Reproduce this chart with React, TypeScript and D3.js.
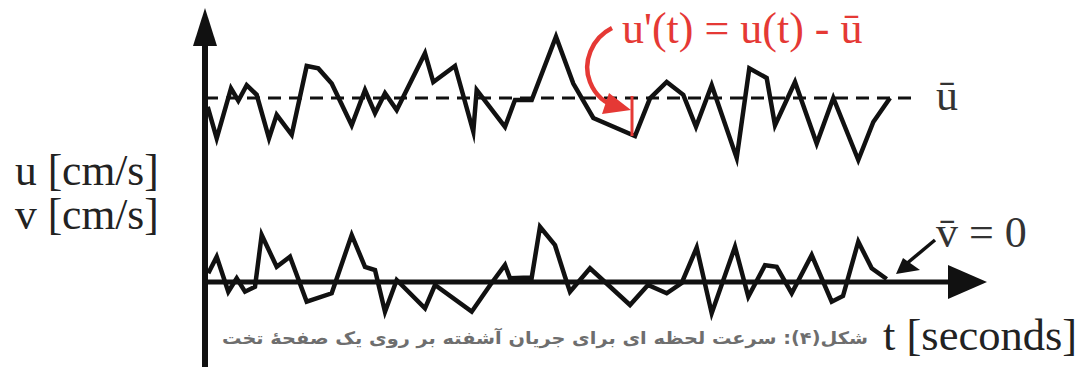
import React from "react";
import * as d3 from "d3";

// Instantaneous streamwise velocity u(t) [cm/s]
const timeU = [
  0.27, 1.17, 2.6, 3.33, 4.17, 5.17, 6.4, 7.17, 8.67, 10.17, 11.33, 12.67, 14.67, 16, 17, 18,
  19.17, 22, 22.83, 25, 26.83, 27.17, 30, 31, 32.67, 35.1, 36.83, 38.83, 43, 44.5, 46.17, 47.83,
  49.1, 50.67, 53.17, 54.43, 56.17, 57, 59, 61.17, 62.83, 65.33, 66.83, 68.5,
];
const uValues = [
  21.9, 17.96, 24.2, 22.66, 24.6, 23.4, 17.96, 20.9, 18.4, 27, 26.7, 24.8, 19.6, 24, 21.1, 23.6,
  21.5, 28.6, 25, 27, 18.8, 24, 19.4, 22.75, 22.75, 30.66, 24.8, 20.5, 18.25, 22.96, 25, 23.4,
  19.4, 24.6, 15.5, 26.7, 25.5, 19.6, 25, 17.3, 23, 15.25, 20, 23,
];

// Instantaneous transverse velocity v(t) [cm/s]
const timeV = [
  0.33, 1.17, 2.33, 3.17, 4, 5, 5.67, 7.17, 8.5, 10.17, 12.67, 14.67, 16, 17, 18, 19.17, 22, 23,
  26.67, 28.5, 30, 30.5, 31.83, 32.67, 33.5, 35, 36, 36.5, 38.5, 42.5, 44.3, 46.17, 47.67, 49.17,
  50.67, 53, 54.33, 56, 57.17, 58.67, 60.67, 62.67, 63.8, 65.33, 66.67, 68.17,
];
const vValues = [
  1.09, 3.16, -1.21, 0.46, -1.21, -0.59, 5.875, 1.9, 3.16, -2.46, -1.41, 5.875, 1.9, 1.5, -3.71,
  0.25, -3.29, -0.375, -3.71, -0.4, 2.125, 0.46, 0.54, 0.54, 6.9, 4.6, 0.66, -1.21, 1.71, -2.875,
  -0.375, -1.41, -0.125, 4.3, -3.9, 4.4, -1.84, 2.1, 1.9, -1.41, 3.375, -2.46, -1.75, 5.04, 1.71,
  0.375,
];

const uMean = 23;
const vMean = 0;
const meanLineEnd = 71.2;
const fluctuationIndex = 28;

const W = 1078;
const H = 367;

const formulaLabel = "u'(t) = u(t) - ū";
const meanULabel = "ū";
const meanVLabel = "v\u0304 = 0";
const yLabels = ["u [cm/s]", "v [cm/s]"];
const xLabel = "t [seconds]";
const caption = "شکل(۴): سرعت لحظه ای برای جریان آشفته بر روی یک صفحهٔ تخت";

const RED = "#e53935";
const INK = "#111";
const SERIF = "'Liberation Serif', 'Times New Roman', serif";

export default function App() {
  const x = d3.scaleLinear().domain([0, 78.2]).range([205, 987]);
  const y = d3.scaleLinear().domain([-10.625, 34.25]).range([H, 8]);

  const uLine = d3
    .line<number>()
    .x((_, i) => x(timeU[i]))
    .y((d) => y(d));
  const vLine = d3
    .line<number>()
    .x((_, i) => x(timeV[i]))
    .y((d) => y(d));

  const x0 = x(0);
  const y0 = y(vMean);
  const yTop = y.range()[1];
  const xEnd = x.range()[1];

  const fx = x(timeU[fluctuationIndex]) - 3;
  const fyMean = y(uMean);
  const fyVal = y(uValues[fluctuationIndex]);

  return (
    <svg
      width={W}
      height={H}
      viewBox={`0 0 ${W} ${H}`}
      style={{ position: "absolute", left: 0, top: 0, display: "block", background: "#fff" }}
    >
      {/* mean of u */}
      <line
        x1={x0}
        x2={x(meanLineEnd)}
        y1={y(uMean)}
        y2={y(uMean)}
        stroke={INK}
        strokeWidth={3}
        strokeDasharray="13 8"
      />

      {/* velocity traces */}
      <path d={uLine(uValues) || ""} fill="none" stroke={INK} strokeWidth={4.5} strokeLinejoin="miter" strokeMiterlimit={10} />
      <path d={vLine(vValues) || ""} fill="none" stroke={INK} strokeWidth={4.5} strokeLinejoin="miter" strokeMiterlimit={10} />

      {/* axes */}
      <line x1={x0} x2={x0} y1={H} y2={yTop + 30} stroke={INK} strokeWidth={6} />
      <polygon points={`${x0},${yTop} ${x0 - 12},${yTop + 38} ${x0 + 12},${yTop + 38}`} fill={INK} />
      <line x1={x0} x2={xEnd - 30} y1={y0} y2={y0} stroke={INK} strokeWidth={5} />
      <polygon points={`${xEnd},${y0} ${xEnd - 39},${y0 - 17} ${xEnd - 39},${y0 + 17}`} fill={INK} />

      {/* fluctuation u' */}
      <line x1={fx} x2={fx} y1={fyMean - 2} y2={fyVal} stroke={RED} strokeWidth={3} />
      <path
        d="M 612 28 C 592 38, 582 62, 590 82 C 596 97, 606 104, 618 107"
        fill="none"
        stroke={RED}
        strokeWidth={4.5}
      />
      <polygon points="631,110 609,93 602,114" fill={RED} />
      <text x={622} y={43} fontFamily={SERIF} fontSize={44} fill={RED}>
        {formulaLabel}
      </text>

      {/* mean labels */}
      <text x={936} y={110} fontFamily={SERIF} fontSize={44} fill="#333">
        {meanULabel}
      </text>
      <text x={936} y={247} fontFamily={SERIF} fontSize={44} fill="#333">
        {meanVLabel}
      </text>
      <line x1={935} y1={240} x2={905} y2={265} stroke={INK} strokeWidth={3.5} />
      <polygon points="896,274 903,258 920,270" fill={INK} />

      {/* axis titles */}
      <text x={15} y={185} fontFamily={SERIF} fontSize={43.5} fill="#222">
        {yLabels[0]}
      </text>
      <text x={15} y={229} fontFamily={SERIF} fontSize={43.5} fill="#222">
        {yLabels[1]}
      </text>
      <text x={883} y={350} fontFamily={SERIF} fontSize={44.5} fill="#222">
        {xLabel}
      </text>

      {/* caption */}
      <text
        x={868}
        y={344}
        direction="rtl"
        textAnchor="start"
        fontFamily="'DejaVu Sans', 'Noto Sans', sans-serif"
        fontWeight="bold"
        fontSize={17}
        fill="#6e6e6e"
        textLength={646}
        lengthAdjust="spacingAndGlyphs"
      >
        {caption}
      </text>
    </svg>
  );
}
